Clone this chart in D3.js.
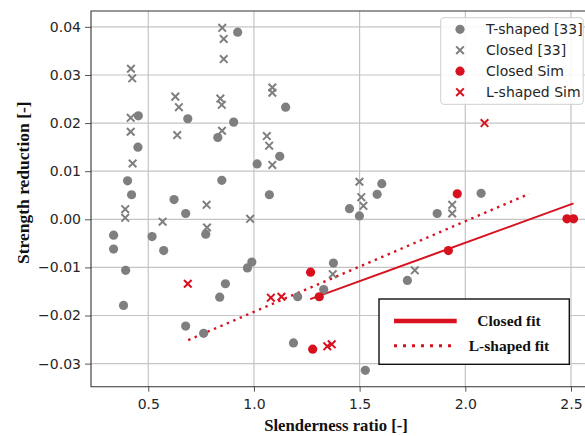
<!DOCTYPE html>
<html><head><meta charset="utf-8">
<script src="https://cdn.jsdelivr.net/npm/d3@7"></script>
<style>body{margin:0;background:#fff}svg{display:block}</style>
</head><body>
<svg id="c" width="585" height="436"></svg>
<script>
// ---- data ----
const tShaped = [
  [0.923,0.0389],[0.453,0.0215],[0.687,0.0209],[0.904,0.0202],[0.829,0.0170],[0.451,0.0150],
  [1.015,0.0115],[0.402,0.0080],[0.848,0.0081],[0.421,0.0051],[0.622,0.0041],[0.677,0.0012],
  [0.336,-0.0033],[0.518,-0.0036],[0.772,-0.0031],[0.336,-0.0062],[0.573,-0.0065],[0.969,-0.0101],
  [0.990,-0.0089],[0.393,-0.0106],[0.865,-0.0134],[0.838,-0.0162],[0.383,-0.0179],[0.677,-0.0222],
  [0.762,-0.0237],[1.150,0.0233],[1.122,0.0131],[1.605,0.0074],[1.583,0.0052],
  [1.073,0.0051],[1.452,0.0022],[1.499,0.0007],[1.376,-0.0091],[1.330,-0.0146],[1.207,-0.0161],
  [1.726,-0.0127],[1.187,-0.0257],[1.527,-0.0314],[1.867,0.0012],[2.075,0.0054]
];
const closedExp = [
  [0.850,0.0398],[0.857,0.0375],[0.857,0.0333],[0.418,0.0313],[0.424,0.0293],[0.628,0.0255],
  [0.645,0.0233],[0.841,0.0251],[0.848,0.0238],[0.417,0.0211],[0.417,0.0182],[0.637,0.0175],
  [0.849,0.0184],[0.426,0.0116],[0.391,0.0021],[0.776,0.0030],[0.391,0.0003],[0.568,-0.0005],
  [0.982,0.0001],[0.778,-0.0017],[1.087,0.0274],[1.087,0.0263],[1.061,0.0173],[1.072,0.0153],
  [1.087,0.0113],[1.499,0.0078],[1.508,0.0046],[1.518,0.0028],[1.373,-0.0114],[1.761,-0.0106],
  [1.938,0.0030],[1.938,0.0012]
];
const closedSim = [
  [1.268,-0.0110],[1.309,-0.0161],[1.278,-0.0270],[1.962,0.0053],[1.920,-0.0065],[2.481,0.0001],[2.512,0.0001]
];
const lShapedSim = [
  [0.687,-0.0134],[1.080,-0.0163],[1.130,-0.0161],[1.347,-0.0264],[1.368,-0.0260],[2.091,0.0200]
];
const closedFit = [[1.266,-0.0166],[2.512,0.0033]];
const lShapedFit = [[0.689,-0.0251],[2.303,0.0053]];
const xTicks = [0.5,1.0,1.5,2.0,2.5];
const yTicks = [-0.03,-0.02,-0.01,0.00,0.01,0.02,0.03,0.04];
const legendLabels = ["T-shaped [33]","Closed [33]","Closed Sim","L-shaped Sim"];
const fitLabels = ["Closed fit","L-shaped fit"];

// ---- drawing ----
const GRAY = "#7f7f7f", RED = "#d8111f";
const svg = d3.select("#c");
const L = 91, T = 11, B = 386.7;
const x = d3.scaleLinear().domain([0.23, 2.6]).range([91.2, 592.1]);
const y = d3.scaleLinear().domain([-0.0348, 0.0433]).range([B, T]);
const R = x.range()[1];

// grid
const g = svg.append("g");
g.selectAll(".gx").data(xTicks).join("line")
  .attr("x1", d=>x(d)).attr("x2", d=>x(d)).attr("y1", T).attr("y2", B)
  .attr("stroke", "#c4c4c4").attr("stroke-width", 1.2);
g.selectAll(".gy").data(yTicks).join("line")
  .attr("x1", L).attr("x2", R).attr("y1", d=>y(d)).attr("y2", d=>y(d))
  .attr("stroke", "#c4c4c4").attr("stroke-width", 1.2);

// axes
const fmtY = d3.format(".2f"), fmtX = d3.format(".1f");
const ax = svg.append("g").attr("transform", `translate(0,${B})`)
  .call(d3.axisBottom(x).tickValues(xTicks).tickFormat(fmtX).tickSize(5).tickPadding(7).tickSizeOuter(0));
const ay = svg.append("g").attr("transform", `translate(${L},0)`)
  .call(d3.axisLeft(y).tickValues(yTicks).tickFormat(fmtY).tickSize(6).tickPadding(4).tickSizeOuter(0));
[ax, ay].forEach(a => {
  a.select(".domain").remove();
  a.selectAll(".tick line").attr("stroke", "#555");
  a.selectAll(".tick text").attr("fill", "#262626").style("font-family", "DejaVu Sans").style("font-size", "14px");
});

// frame (left, top, bottom; right edge is outside the picture)
svg.append("path").attr("d", `M${R},${T}H${L}V${B}H${R}`)
  .attr("fill", "none").attr("stroke", "#333").attr("stroke-width", 1.1);

// fit lines
const line = d3.line().x(d=>x(d[0])).y(d=>y(d[1]));
svg.append("path").attr("d", line(closedFit)).attr("stroke", RED).attr("stroke-width", 2).attr("fill", "none");
svg.append("path").attr("d", line(lShapedFit)).attr("stroke", RED).attr("stroke-width", 2.4)
  .attr("stroke-dasharray", "2.4,4.6").attr("fill", "none");

// markers
const cross = (sel, data, color) => sel.selectAll(null).data(data).join("path")
  .attr("d", d => { const cx = x(d[0]), cy = y(d[1]), s = 3.8;
    return `M${cx-s},${cy-s}L${cx+s},${cy+s}M${cx-s},${cy+s}L${cx+s},${cy-s}`; })
  .attr("stroke", color).attr("stroke-width", 2).attr("fill", "none");
const dots = (sel, data, color) => sel.selectAll(null).data(data).join("circle")
  .attr("cx", d=>x(d[0])).attr("cy", d=>y(d[1])).attr("r", 4.6).attr("fill", color);

dots(svg.append("g"), tShaped, GRAY);
cross(svg.append("g"), closedExp, GRAY);
dots(svg.append("g"), closedSim, RED);
cross(svg.append("g"), lShapedSim, RED);

// legend 1
const lg = svg.append("g");
lg.append("rect").attr("x", 440.7).attr("y", 17.7).attr("width", 142.5).attr("height", 86.6).attr("rx", 3)
  .attr("fill", "#fff").attr("fill-opacity", 0.85).attr("stroke", "#cfcfcf").attr("stroke-width", 1);
const rowsY = [29.3, 50.2, 71.2, 92.2];
const kinds = [["dot",GRAY],["x",GRAY],["dot",RED],["x",RED]];
legendLabels.forEach((t, i) => {
  const cy = rowsY[i], cx = 460;
  if (kinds[i][0] === "dot") lg.append("circle").attr("cx", cx).attr("cy", cy).attr("r", 4.6).attr("fill", kinds[i][1]);
  else { const s = 3.8; lg.append("path").attr("d", `M${cx-s},${cy-s}L${cx+s},${cy+s}M${cx-s},${cy+s}L${cx+s},${cy-s}`)
    .attr("stroke", kinds[i][1]).attr("stroke-width", 2); }
  lg.append("text").attr("x", 486).attr("y", cy + 5).text(t)
    .style("font-family", "DejaVu Sans").style("font-size", "14px").attr("fill", "#262626");
});

// legend 2
const lg2 = svg.append("g");
lg2.append("rect").attr("x", 379).attr("y", 299).attr("width", 190.3).attr("height", 65.3)
  .attr("fill", "#fff").attr("stroke", "#111").attr("stroke-width", 1.4);
lg2.append("line").attr("x1", 394).attr("x2", 456.7).attr("y1", 321).attr("y2", 321)
  .attr("stroke", RED).attr("stroke-width", 4.6);
lg2.append("line").attr("x1", 394).attr("x2", 457).attr("y1", 345.7).attr("y2", 345.7)
  .attr("stroke", RED).attr("stroke-width", 3).attr("stroke-dasharray", "3,6");
fitLabels.forEach((t, i) => {
  lg2.append("text").attr("x", 509).attr("y", [321, 345.7][i] + 5).attr("text-anchor", "middle").text(t)
    .style("font-family", "Liberation Serif").style("font-weight", "bold").style("font-size", "15.5px").attr("fill", "#111");
});

// axis titles
svg.append("text").attr("x", 336).attr("y", 431).attr("text-anchor", "middle").text("Slenderness ratio [-]")
  .style("font-family", "Liberation Serif").style("font-weight", "bold").style("font-size", "16.7px").attr("fill", "#111");
svg.append("text").attr("transform", "translate(29,182.7) rotate(-90)").attr("text-anchor", "middle").text("Strength reduction [-]")
  .style("font-family", "Liberation Serif").style("font-weight", "bold").style("font-size", "17.5px").attr("fill", "#111");
</script>
</body></html>
